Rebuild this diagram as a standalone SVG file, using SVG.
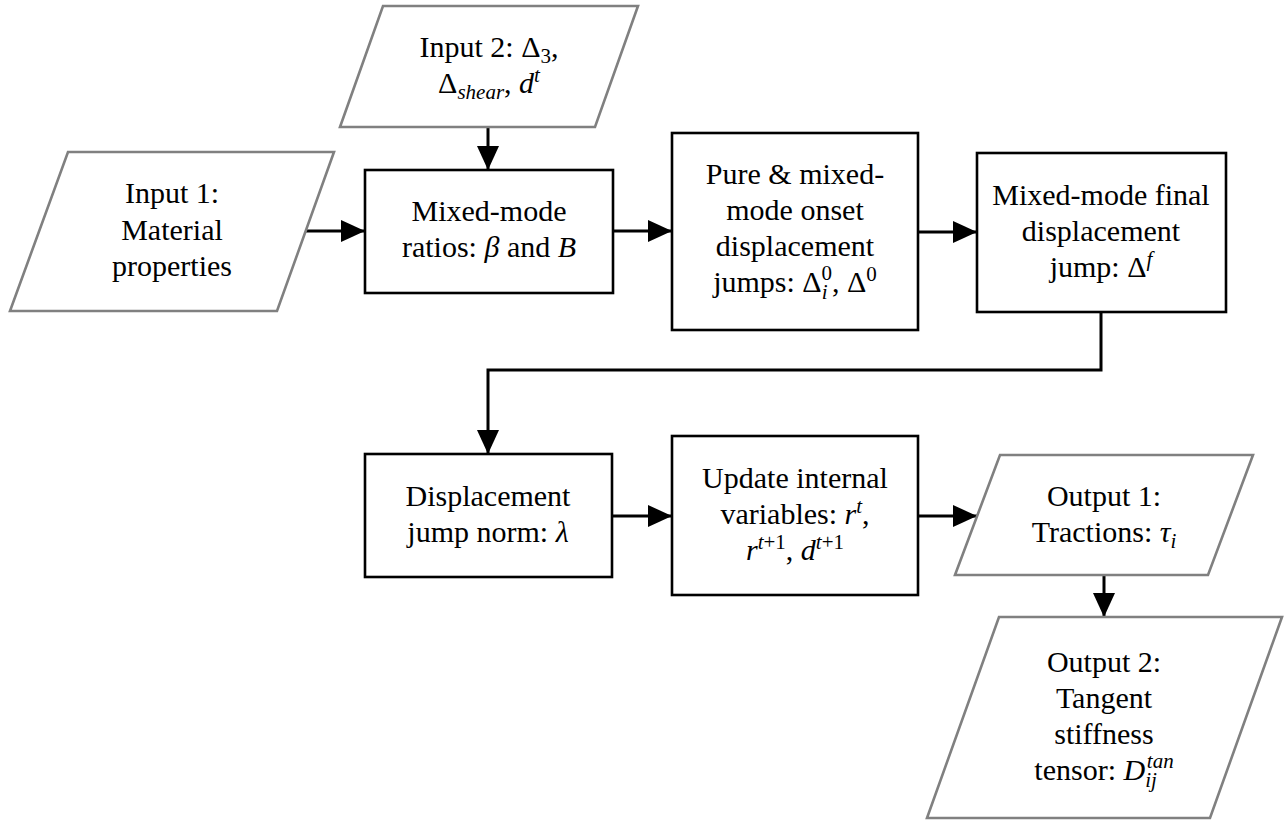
<svg xmlns="http://www.w3.org/2000/svg" width="1288" height="821" viewBox="0 0 1288 821">
<style>
.io{fill:#fff;stroke:#808080;stroke-width:2.6;stroke-linejoin:miter}
.box{fill:#fff;stroke:#000;stroke-width:2.6}
.t{font-family:"Liberation Serif","DejaVu Serif",serif;font-size:30px;fill:#000;text-anchor:middle}
.i{font-style:italic}
.s{font-size:21px}
.c{fill:none;stroke:#000;stroke-width:3}
</style>
<defs>
<marker id="ah" markerUnits="userSpaceOnUse" markerWidth="24" markerHeight="22" refX="24" refY="11" orient="auto">
<path d="M0,0 L24,11 L0,22 Z" fill="#000"/>
</marker>
</defs>
<rect width="1288" height="821" fill="#fff"/>
<g id="connectors">
<path class="c" d="M488,127 L488,170" marker-end="url(#ah)"/>
<path class="c" d="M306,231 L365,231" marker-end="url(#ah)"/>
<path class="c" d="M613,231 L672,231" marker-end="url(#ah)"/>
<path class="c" d="M918,232 L977,232" marker-end="url(#ah)"/>
<path class="c" d="M1101,312 L1101,370 L488,370 L488,454" marker-end="url(#ah)"/>
<path class="c" d="M612,516 L672,516" marker-end="url(#ah)"/>
<path class="c" d="M918,516 L977,516" marker-end="url(#ah)"/>
<path class="c" d="M1104,575 L1104,617" marker-end="url(#ah)"/>
</g>
<g id="input2">
<polygon class="io" points="383,6 638,6 595,127 340,127"/>
<text class="t" x="489" y="57">Input 2:  Δ<tspan class="s" dy="6">3</tspan><tspan dy="-6">,</tspan></text>
<text class="t" x="489" y="93">Δ<tspan class="s i" dy="6">shear</tspan><tspan dy="-6">, </tspan><tspan class="i">d</tspan><tspan class="s i" dy="-11">t</tspan></text>
</g>
<g id="input1">
<polygon class="io" points="68,152 334,152 277,311 10,311"/>
<text class="t" x="172" y="203">Input 1:</text>
<text class="t" x="172" y="240">Material</text>
<text class="t" x="172" y="276">properties</text>
</g>
<g id="ratios">
<rect class="box" x="365" y="170" width="248" height="123"/>
<text class="t" x="489" y="221">Mixed-mode</text>
<text class="t" x="489" y="257">ratios: <tspan class="i">β</tspan> and <tspan class="i">B</tspan></text>
</g>
<g id="onset">
<rect class="box" x="672" y="133" width="246" height="197"/>
<text class="t" x="795" y="184">Pure &amp; mixed-</text>
<text class="t" x="795" y="220">mode onset</text>
<text class="t" x="795" y="256">displacement</text>
<text class="t" x="795" y="292">jumps: Δ<tspan class="s i" dy="7">i</tspan><tspan class="s" dx="-6" dy="-19">0</tspan><tspan dy="12">, Δ</tspan><tspan class="s" dy="-11">0</tspan></text>
</g>
<g id="final">
<rect class="box" x="977" y="153" width="249" height="159"/>
<text class="t" x="1101" y="205">Mixed-mode final</text>
<text class="t" x="1101" y="241">displacement</text>
<text class="t" x="1101" y="277">jump: Δ<tspan class="s i" dy="-11">f</tspan></text>
</g>
<g id="norm">
<rect class="box" x="365" y="454" width="247" height="123"/>
<text class="t" x="488" y="506">Displacement</text>
<text class="t" x="488" y="542">jump norm: <tspan class="i">λ</tspan></text>
</g>
<g id="update">
<rect class="box" x="672" y="436" width="246" height="159"/>
<text class="t" x="795" y="488">Update internal</text>
<text class="t" x="795" y="524">variables: <tspan class="i">r</tspan><tspan class="s i" dy="-11">t</tspan><tspan dy="11">,</tspan></text>
<text class="t" x="795" y="560"><tspan class="i">r</tspan><tspan class="s" dy="-11"><tspan class="i">t</tspan>+1</tspan><tspan dy="11">, </tspan><tspan class="i">d</tspan><tspan class="s" dy="-11"><tspan class="i">t</tspan>+1</tspan></text>
</g>
<g id="output1">
<polygon class="io" points="1000,455 1253,455 1208,575 955,575"/>
<text class="t" x="1104" y="506">Output 1:</text>
<text class="t" x="1104" y="542">Tractions: <tspan class="i">τ</tspan><tspan class="s i" dy="6">i</tspan></text>
</g>
<g id="output2">
<polygon class="io" points="999,617 1282,617 1210,818 927,818"/>
<text class="t" x="1104" y="672">Output 2:</text>
<text class="t" x="1104" y="708">Tangent</text>
<text class="t" x="1104" y="744">stiffness</text>
<text class="t" x="1104" y="780">tensor: <tspan class="i">D</tspan><tspan class="s i" dy="7">ij</tspan><tspan class="s i" dx="-10" dy="-19">tan</tspan></text>
</g>
</svg>
